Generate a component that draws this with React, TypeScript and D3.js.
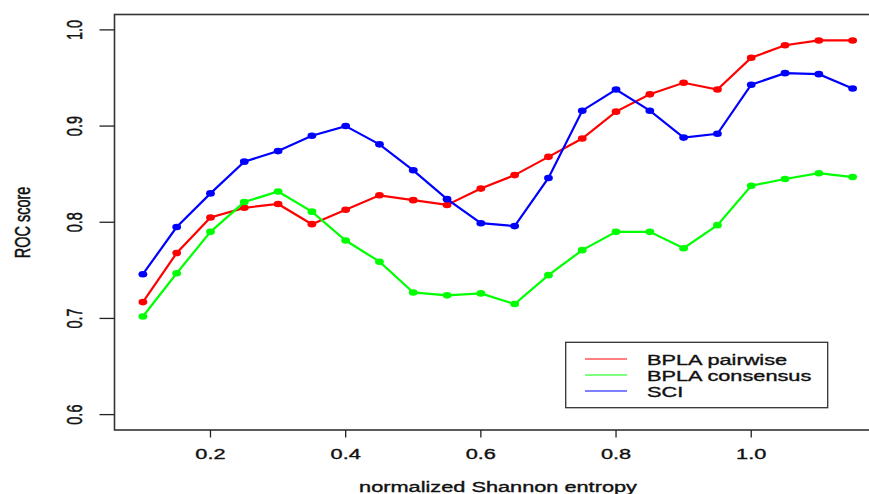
import React from "react";
import * as d3 from "d3";

const entropy = [0.1, 0.15, 0.2, 0.25, 0.3, 0.35, 0.4, 0.45, 0.5, 0.55, 0.6, 0.65, 0.7, 0.75, 0.8, 0.85, 0.9, 0.95, 1.0, 1.05, 1.1, 1.15];
const pairwise = [0.717, 0.768, 0.805, 0.815, 0.819, 0.798, 0.813, 0.828, 0.823, 0.818, 0.835, 0.849, 0.868, 0.887, 0.915, 0.933, 0.945, 0.938, 0.971, 0.984, 0.989, 0.989];
const consensus = [0.702, 0.747, 0.790, 0.821, 0.832, 0.811, 0.781, 0.759, 0.727, 0.724, 0.726, 0.715, 0.745, 0.771, 0.790, 0.790, 0.773, 0.797, 0.838, 0.845, 0.851, 0.847];
const sci = [0.746, 0.795, 0.830, 0.863, 0.874, 0.890, 0.900, 0.881, 0.854, 0.824, 0.799, 0.796, 0.846, 0.916, 0.938, 0.916, 0.888, 0.892, 0.943, 0.955, 0.954, 0.939];
const seriesNames = ["BPLA pairwise", "BPLA consensus", "SCI"];
const seriesColors = ["#ff0000", "#00ff00", "#0000ff"];
const xTicks = [0.2, 0.4, 0.6, 0.8, 1.0];
const yTicks = [0.6, 0.7, 0.8, 0.9, 1.0];

const FONT = "'Liberation Sans', Arial, sans-serif";
const FS = 14.5;
const SX = 1.5;

export default function App() {
  const x = d3.scaleLinear().domain([0.058, 1.192]).range([114.5, 881]);
  const y = d3.scaleLinear().domain([0.584, 1.016]).range([430, 14.5]);
  const series = [pairwise, consensus, sci];
  const line = d3
    .line<number>()
    .x((_, i) => x(entropy[i]))
    .y((d) => y(d));

  const txt = (
    tx: number,
    ty: number,
    s: string,
    rotate = false,
    anchor: "start" | "middle" = "middle",
    key?: string
  ) => (
    <text
      key={key}
      transform={`translate(${tx},${ty}) scale(${SX},1)${rotate ? " rotate(-90)" : ""}`}
      textAnchor={anchor}
      fontFamily={FONT}
      fontSize={FS}
      fill="#111"
      stroke="#111"
      strokeWidth={0.35}
    >
      {s}
    </text>
  );

  return (
    <svg
      width={869}
      height={494}
      style={{ position: "absolute", left: 0, top: 0, background: "#fff" }}
    >
      <rect x={0} y={0} width={869} height={494} fill="#fff" />
      {series.map((s, k) => (
        <g key={k}>
          <path d={line(s) || ""} fill="none" stroke={seriesColors[k]} strokeWidth={2.2} />
          {s.map((v, i) => (
            <ellipse key={i} cx={x(entropy[i])} cy={y(v)} rx={4.4} ry={3.3} fill={seriesColors[k]} />
          ))}
        </g>
      ))}
      <rect
        x={114.5}
        y={14.5}
        width={881 - 114.5}
        height={430 - 14.5}
        fill="none"
        stroke="#333"
        strokeWidth={1.6}
      />
      {xTicks.map((t) => (
        <g key={"x" + t}>
          <line x1={x(t)} x2={x(t)} y1={430} y2={437.5} stroke="#222" strokeWidth={1.3} />
          {txt(x(t), 459, t.toFixed(1), false, "middle", "xl" + t)}
        </g>
      ))}
      {yTicks.map((t) => (
        <g key={"y" + t}>
          <line x1={99.5} x2={114.5} y1={y(t)} y2={y(t)} stroke="#222" strokeWidth={1.3} />
          {txt(81.5, y(t), t.toFixed(1), true, "middle", "yl" + t)}
        </g>
      ))}
      {txt(498, 492, "normalized Shannon entropy")}
      {txt(30, 222.5, "ROC score", true)}
      <rect x={565.7} y={342.3} width={262} height={65.4} fill="#fff" stroke="#333" strokeWidth={1.3} />
      {seriesNames.map((n, k) => (
        <g key={n}>
          <line x1={585} x2={627} y1={359 + 16 * k} y2={359 + 16 * k} stroke={seriesColors[k]} strokeWidth={1} />
          {txt(647, 364.5 + 16 * k, n, false, "start")}
        </g>
      ))}
    </svg>
  );
}
